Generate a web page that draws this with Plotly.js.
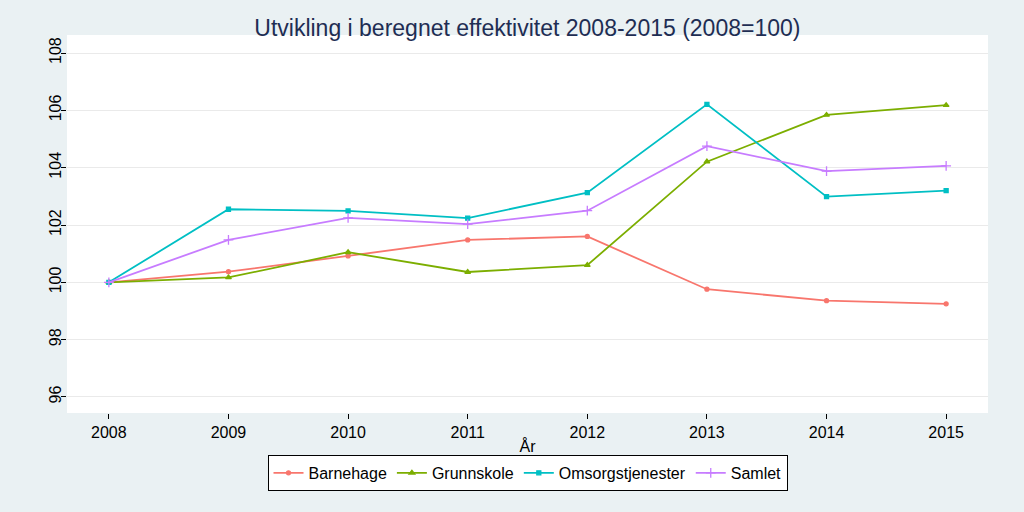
<!DOCTYPE html>
<html>
<head>
<meta charset="utf-8">
<script src="https://cdn.plot.ly/plotly-3.0.1.min.js"></script>
<style>html,body{margin:0;padding:0;background:#EAF1F3;}</style>
</head>
<body>
<div id="chart" style="width:1024px;height:512px;"></div>
<script>
const years = [2008, 2009, 2010, 2011, 2012, 2013, 2014, 2015];
const barnehage = [100, 100.37, 100.92, 101.48, 101.6, 99.76, 99.36, 99.25];
const grunnskole = [100, 100.17, 101.05, 100.36, 100.6, 104.21, 105.84, 106.18];
const omsorg = [100, 102.55, 102.49, 102.24, 103.13, 106.21, 102.99, 103.2];
const samlet = [100, 101.48, 102.25, 102.03, 102.5, 104.75, 103.88, 104.06];
const seriesNames = ["Barnehage", "Grunnskole", "Omsorgstjenester", "Samlet"];
const yTicks = [96, 98, 100, 102, 104, 106, 108];

const colors = ["#F8766D", "#7CAE00", "#00BFC4", "#C77CFF"];
const symbols = ["circle", "triangle-up", "square", "cross-thin-open"];
const sizes = [4, 5, 4, 7];
const data = [barnehage, grunnskole, omsorg, samlet].map((vals, i) => ({
  x: years, y: vals, name: seriesNames[i], type: "scatter", mode: "lines+markers",
  line: {color: colors[i], width: 1.8},
  marker: {color: colors[i], symbol: symbols[i], size: sizes[i], line: {color: colors[i], width: 1.3}}
}));

const layout = {
  width: 1024, height: 512,
  paper_bgcolor: "#EAF1F3", plot_bgcolor: "#FFFFFF",
  margin: {l: 67, r: 36, t: 35, b: 99},
  font: {family: "Liberation Sans, Arial, sans-serif", color: "#000000"},
  title: {text: "Utvikling i beregnet effektivitet 2008-2015 (2008=100)", font: {size: 23, color: "#1E2D53"},
          x: 0.515, xanchor: "center", y: 1 - 28/512, yanchor: "middle", yref: "container"},
  xaxis: {range: [2007.65, 2015.35], tickvals: years, ticktext: years.map(String),
          showgrid: false, zeroline: false, showline: false, ticks: "outside", ticklen: 5, tickcolor: "#000",
          tickfont: {size: 16}, title: {text: "År", font: {size: 16}, standoff: 0}},
  yaxis: {range: [95.44, 108.63], tickvals: yTicks, ticktext: yTicks.map(String), tickangle: -90,
          showgrid: true, gridcolor: "#EAEAEA", gridwidth: 1, zeroline: false, showline: false,
          ticks: "outside", ticklen: 5, tickcolor: "#000", tickfont: {size: 16}, ticklabelstandoff: -6},
  showlegend: true,
  legend: {orientation: "h", x: 0.5, xanchor: "center", y: -0.111, yanchor: "top",
           bgcolor: "#FFFFFF", bordercolor: "#000000", borderwidth: 1, font: {size: 16},
           itemwidth: 30, tracegroupgap: 0}
};
Plotly.newPlot("chart", data, layout, {displayModeBar: false, staticPlot: true});
</script>
</body>
</html>
